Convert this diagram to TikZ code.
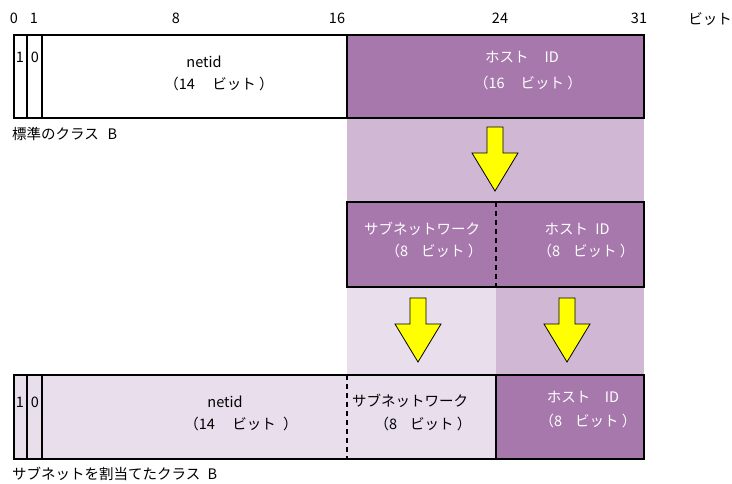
\documentclass[tikz,border=0pt]{standalone}
\usepackage{fontspec}
\setmainfont{Noto Sans CJK JP}
\definecolor{purp}{RGB}{167,120,172}
\definecolor{lpurp}{RGB}{208,184,212}
\definecolor{vlpurp}{RGB}{232,222,236}
\definecolor{arrowyel}{RGB}{255,255,0}
\begin{document}
\begin{tikzpicture}[x=1pt,y=-1pt,
  lbl/.style={font=\fontsize{14.5}{16}\selectfont, inner sep=0pt},
  wlbl/.style={lbl, text=white},
  frame/.style={draw=black, line width=2.6pt},
  divider/.style={draw=black, line width=2pt},
  dashdiv/.style={draw=black, line width=2pt, dash pattern=on 5pt off 4pt},
  pics/blockarrow/.style={code={
    \draw[fill=arrowyel, draw=black, line width=0.8pt, line join=miter]
      (-8,0) -- (8,0) -- (8,26) -- (23,26) -- (0,64) -- (-23,26) -- (-8,26) -- cycle;}}
]
\useasboundingbox (0,0) rectangle (732,484);
% bands
\fill[lpurp] (347,118) rectangle (644,202);
\fill[vlpurp] (347,287) rectangle (496,375);
\fill[lpurp] (496,287) rectangle (644,375);
% top box
\fill[white] (14,35) rectangle (347,118);
\fill[purp] (347,35) rectangle (644,118);
\draw[divider] (27,35) -- (27,118);
\draw[divider] (42,35) -- (42,118);
\draw[divider] (347,35) -- (347,118);
\draw[frame] (14,35) rectangle (644,118);
% middle box
\fill[purp] (347,202) rectangle (644,287);
\draw[dashdiv] (496,202) -- (496,287);
\draw[frame] (347,202) rectangle (644,287);
% bottom box
\fill[vlpurp] (14,375) rectangle (496,459);
\fill[purp] (496,375) rectangle (644,459);
\draw[divider] (27,375) -- (27,459);
\draw[divider] (42,375) -- (42,459);
\draw[dashdiv] (347,375) -- (347,459);
\draw[divider] (496,375) -- (496,459);
\draw[frame] (14,375) rectangle (644,459);
% arrows
\pic at (495,127) {blockarrow};
\pic at (418,298) {blockarrow};
\pic at (567,298) {blockarrow};
% bit numbers
\node[lbl] (n0) at (14,18) {0};
\node[lbl] (n1) at (34,18) {1};
\node[lbl] (n8) at (176,18) {8};
\node[lbl] (n16) at (337,18) {16};
\node[lbl] (n24) at (500,18) {24};
\node[lbl] (n31) at (639,18) {31};
\node[lbl] (nbit) at (710,19) {ビット};
% top box texts
\node[lbl] (t1) at (20,57) {1};
\node[lbl] (t0) at (35,57) {0};
\node[lbl] (tnet) at (204,62) {netid};
\node[lbl] (tnetb) at (219,84) {（14\hspace{1.2em}ビット ）};
\node[wlbl] (thost) at (522,57) {ホスト\hspace{1.1em}ID};
\node[wlbl] (thostb) at (528,83) {（16\hspace{1.1em}ビット ）};
\node[lbl, anchor=west] (tcap) at (12,134) {標準のクラス\hspace{0.6em}B};
% middle texts
\node[wlbl] (msub) at (422,229) {サブネットワーク};
\node[wlbl] (msubb) at (434,251) {（8\hspace{0.9em}ビット ）};
\node[wlbl] (mhost) at (577,229) {ホスト\hspace{0.5em}ID};
\node[wlbl] (mhostb) at (586,251) {（8\hspace{0.9em}ビット ）};
% bottom texts
\node[lbl] (b1) at (20,402) {1};
\node[lbl] (b0) at (35,402) {0};
\node[lbl] (bnet) at (225,402) {netid};
\node[lbl] (bnetb) at (241,424) {（14\hspace{1.2em}ビット\hspace{0.5em}）};
\node[lbl] (bsub) at (410,401) {サブネットワーク};
\node[lbl] (bsubb) at (423,424) {（8\hspace{0.9em}ビット ）};
\node[wlbl] (bhost) at (583,397) {ホスト\hspace{1em}ID};
\node[wlbl] (bhostb) at (588,421) {（8\hspace{0.9em}ビット ）};
\node[lbl, anchor=west] (bcap) at (12,474) {サブネットを割当てたクラス\hspace{0.5em}B};
\end{tikzpicture}
\end{document}
